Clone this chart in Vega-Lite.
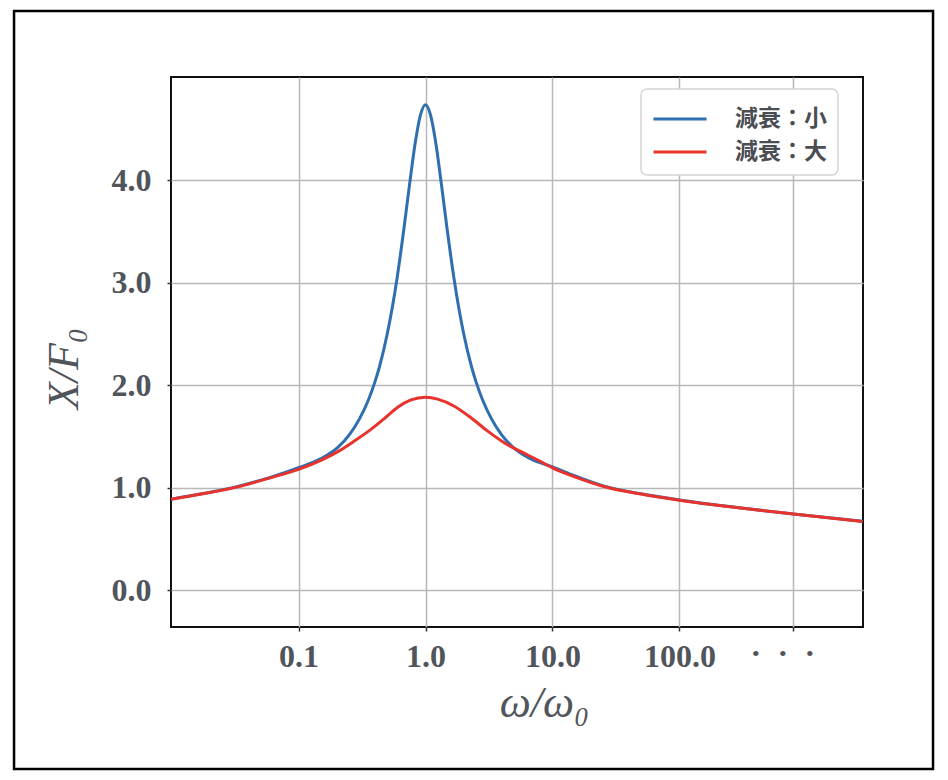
{
  "$schema": "https://vega.github.io/schema/vega-lite/v6.json",
  "description": "Resonance curves for small and large damping on a log frequency axis.",
  "width": 692,
  "height": 550,
  "autosize": {"type": "pad"},
  "padding": {"left": 12, "top": 9, "right": 0, "bottom": 0},
  "background": "white",
  "layer": [
    {
      "data": {
        "values": [
          {"w": 0.0099, "amp": 0.890, "series": "減衰：小"},
          {"w": 0.0181, "amp": 0.947, "series": "減衰：小"},
          {"w": 0.0332, "amp": 1.015, "series": "減衰：小"},
          {"w": 0.0607, "amp": 1.105, "series": "減衰：小"},
          {"w": 0.1, "amp": 1.197, "series": "減衰：小"},
          {"w": 0.150, "amp": 1.285, "series": "減衰：小"},
          {"w": 0.204, "amp": 1.395, "series": "減衰：小"},
          {"w": 0.251, "amp": 1.517, "series": "減衰：小"},
          {"w": 0.302, "amp": 1.673, "series": "減衰：小"},
          {"w": 0.355, "amp": 1.857, "series": "減衰：小"},
          {"w": 0.398, "amp": 2.026, "series": "減衰：小"},
          {"w": 0.433, "amp": 2.176, "series": "減衰：小"},
          {"w": 0.501, "amp": 2.507, "series": "減衰：小"},
          {"w": 0.596, "amp": 3.036, "series": "減衰：小"},
          {"w": 0.676, "amp": 3.526, "series": "減衰：小"},
          {"w": 0.750, "amp": 3.963, "series": "減衰：小"},
          {"w": 0.832, "amp": 4.371, "series": "減衰：小"},
          {"w": 0.912, "amp": 4.633, "series": "減衰：小"},
          {"w": 1.0, "amp": 4.735, "series": "減衰：小"},
          {"w": 1.096, "amp": 4.633, "series": "減衰：小"},
          {"w": 1.202, "amp": 4.371, "series": "減衰：小"},
          {"w": 1.333, "amp": 3.963, "series": "減衰：小"},
          {"w": 1.479, "amp": 3.526, "series": "減衰：小"},
          {"w": 1.679, "amp": 3.036, "series": "減衰：小"},
          {"w": 1.995, "amp": 2.507, "series": "減衰：小"},
          {"w": 2.31, "amp": 2.176, "series": "減衰：小"},
          {"w": 2.512, "amp": 2.026, "series": "減衰：小"},
          {"w": 2.818, "amp": 1.857, "series": "減衰：小"},
          {"w": 3.311, "amp": 1.673, "series": "減衰：小"},
          {"w": 3.981, "amp": 1.517, "series": "減衰：小"},
          {"w": 4.90, "amp": 1.395, "series": "減衰：小"},
          {"w": 6.67, "amp": 1.285, "series": "減衰：小"},
          {"w": 10, "amp": 1.205, "series": "減衰：小"},
          {"w": 14.1, "amp": 1.130, "series": "減衰：小"},
          {"w": 25.1, "amp": 1.020, "series": "減衰：小"},
          {"w": 49.8, "amp": 0.942, "series": "減衰：小"},
          {"w": 100, "amp": 0.882, "series": "減衰：小"},
          {"w": 305, "amp": 0.804, "series": "減衰：小"},
          {"w": 787, "amp": 0.746, "series": "減衰：小"},
          {"w": 2770, "amp": 0.674, "series": "減衰：小"},
          {"w": 0.0099, "amp": 0.890, "series": "減衰：大"},
          {"w": 0.0181, "amp": 0.945, "series": "減衰：大"},
          {"w": 0.0332, "amp": 1.010, "series": "減衰：大"},
          {"w": 0.0607, "amp": 1.100, "series": "減衰：大"},
          {"w": 0.1, "amp": 1.181, "series": "減衰：大"},
          {"w": 0.150, "amp": 1.269, "series": "減衰：大"},
          {"w": 0.204, "amp": 1.353, "series": "減衰：大"},
          {"w": 0.275, "amp": 1.456, "series": "減衰：大"},
          {"w": 0.372, "amp": 1.570, "series": "減衰：大"},
          {"w": 0.474, "amp": 1.675, "series": "減衰：大"},
          {"w": 0.604, "amp": 1.786, "series": "減衰：大"},
          {"w": 0.769, "amp": 1.857, "series": "減衰：大"},
          {"w": 1.0, "amp": 1.883, "series": "減衰：大"},
          {"w": 1.247, "amp": 1.865, "series": "減衰：大"},
          {"w": 1.686, "amp": 1.796, "series": "減衰：大"},
          {"w": 2.28, "amp": 1.683, "series": "減衰：大"},
          {"w": 3.09, "amp": 1.553, "series": "減衰：大"},
          {"w": 4.17, "amp": 1.440, "series": "減衰：大"},
          {"w": 5.65, "amp": 1.353, "series": "減衰：大"},
          {"w": 7.65, "amp": 1.272, "series": "減衰：大"},
          {"w": 10, "amp": 1.195, "series": "減衰：大"},
          {"w": 14.8, "amp": 1.110, "series": "減衰：大"},
          {"w": 27.2, "amp": 1.003, "series": "減衰：大"},
          {"w": 49.8, "amp": 0.940, "series": "減衰：大"},
          {"w": 100, "amp": 0.880, "series": "減衰：大"},
          {"w": 305, "amp": 0.803, "series": "減衰：大"},
          {"w": 787, "amp": 0.745, "series": "減衰：大"},
          {"w": 2770, "amp": 0.673, "series": "減衰：大"}
        ]
      },
      "mark": {"type": "line", "interpolate": "monotone", "strokeWidth": 3, "clip": true},
      "encoding": {
        "x": {
          "field": "w",
          "type": "quantitative",
          "title": "ω/ω₀",
          "scale": {"type": "log", "domain": [0.0099, 2790], "nice": false},
          "axis": {
            "values": [0.1, 1, 10, 100, 787],
            "labelExpr": "datum.value > 500 ? '・・・' : format(datum.value, '.1f')",
            "labelFontSize": {"condition": {"test": "datum.value > 500", "value": 27}, "value": 32},
            "labelOffset": {"condition": {"test": "datum.value > 500", "value": -11}, "value": 0},
            "labelPadding": 10,
            "titlePadding": 9,
            "titleX": 373
          }
        },
        "y": {
          "field": "amp",
          "type": "quantitative",
          "title": "X/F₀",
          "scale": {"domain": [-0.356, 5.005], "nice": false, "zero": false},
          "axis": {
            "values": [0, 1, 2, 3, 4],
            "format": ".1f",
            "labelPadding": 16,
            "titlePadding": 25,
            "titleY": 291
          }
        },
        "color": {
          "field": "series",
          "type": "nominal",
          "scale": {"domain": ["減衰：小", "減衰：大"], "range": ["#2e6fb0", "#e8332d"]},
          "legend": {
            "title": null,
            "orient": "none",
            "legendX": 470,
            "legendY": 12
          }
        }
      }
    },
    {
      "data": {"values": [{"fx": 0, "fx2": 1, "fy": 0, "fy2": 1}]},
      "mark": {"type": "rect", "filled": false, "stroke": "#000000", "strokeWidth": 2.5},
      "encoding": {
        "x": {
          "field": "fx",
          "type": "quantitative",
          "scale": {"domain": [0.1708, 0.9238], "nice": false, "zero": false},
          "axis": null
        },
        "x2": {"field": "fx2"},
        "y": {
          "field": "fy",
          "type": "quantitative",
          "scale": {"domain": [0.1873, 0.9129], "nice": false, "zero": false},
          "axis": null
        },
        "y2": {"field": "fy2"}
      }
    }
  ],
  "resolve": {"scale": {"x": "independent", "y": "independent"}},
  "config": {
    "view": {"stroke": "#111111", "strokeWidth": 2},
    "axis": {
      "labelFont": "Liberation Serif",
      "labelFontWeight": "bold",
      "labelFontSize": 32,
      "labelColor": "#50545b",
      "titleFont": "Liberation Serif",
      "titleFontStyle": "italic",
      "titleFontWeight": "normal",
      "titleFontSize": 44,
      "titleColor": "#50545b",
      "gridColor": "#b8b8b8",
      "gridWidth": 1.5,
      "domain": false,
      "tickColor": "#333333",
      "tickSize": 4,
      "tickWidth": 1.5
    },
    "legend": {
      "symbolType": "M-1,0H2.03",
      "symbolSize": 1225,
      "symbolStrokeWidth": 3,
      "labelFont": "Noto Sans CJK JP",
      "labelFontSize": 23,
      "labelFontWeight": "bold",
      "labelColor": "#4a4d52",
      "labelOffset": 45,
      "padding": 11,
      "rowPadding": 2,
      "fillColor": "white",
      "strokeColor": "#d4d4d4",
      "strokeWidth": 1.5,
      "cornerRadius": 6
    }
  }
}
